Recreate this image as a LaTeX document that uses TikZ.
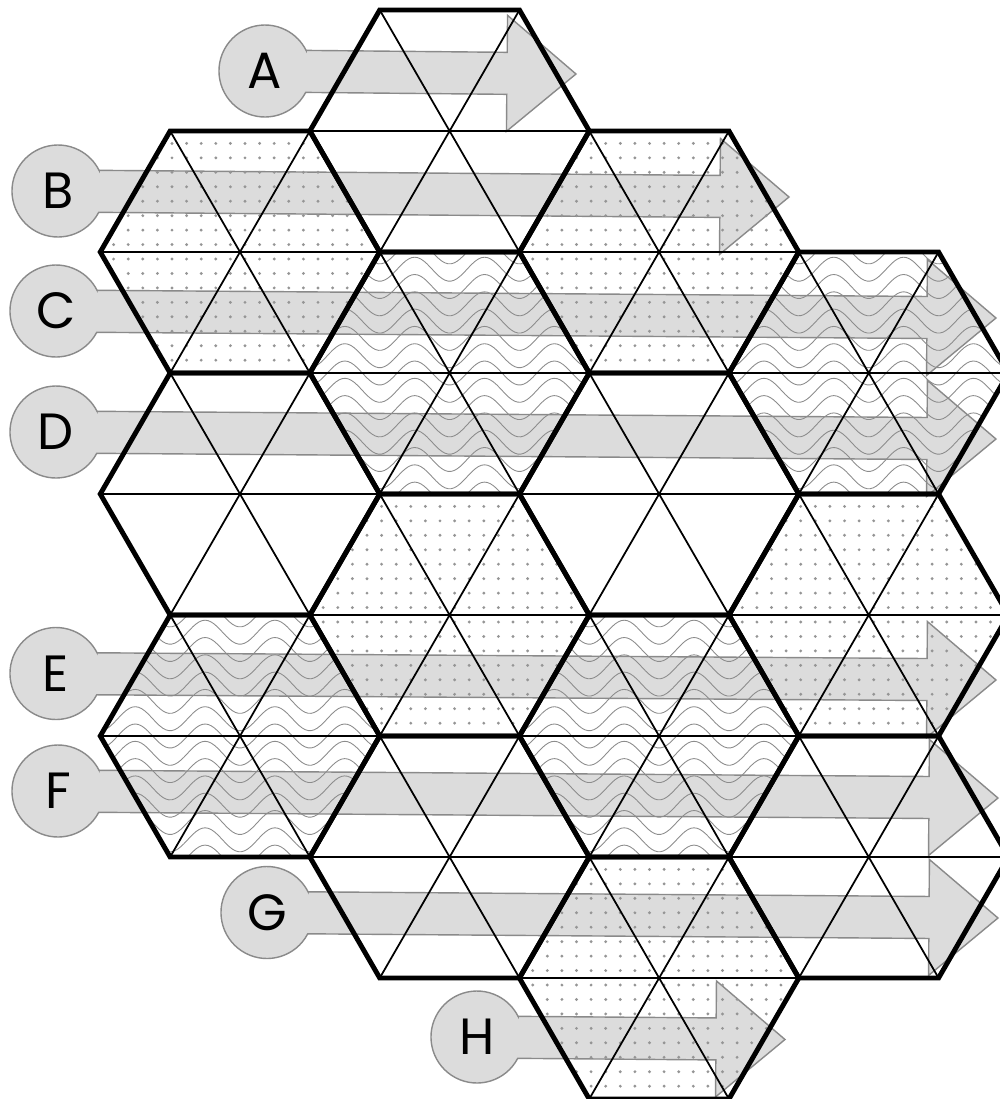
\documentclass[tikz,border=0pt]{standalone}
\usepackage{fontspec}
\setmainfont{Poppins}
\usepackage{tikz}
\definecolor{lanefill}{HTML}{DCDCDC}
\definecolor{lanerim}{HTML}{8A8A8A}
\definecolor{dotgray}{HTML}{959595}
\tikzset{
  celledge/.style={line width=2.8pt, draw=black, line join=miter},
  cellspoke/.style={line width=1pt, draw=black},
  celldot/.style={fill=dotgray},
  cellwave/.style={line width=0.5pt, draw=black!45},
  laneshape/.style={fill=lanefill, draw=lanerim, line width=0.8pt, line join=miter},
  lanelabel/.style={font=\fontsize{29}{32}\selectfont, text=black, inner sep=0pt},
}
\newcommand{\hexside}{139.72}
% #1 letter, (#2,#3) disc centre, (#4,#5) arrow tip
\newcommand{\lane}[5]{%
  \pgfmathsetmacro{\laneang}{atan2(#5-#3,#4-#2)}%
  \pgfmathsetmacro{\lanelen}{veclen(#4-#2,#5-#3)}%
  \begin{scope}[shift={(#2,#3)}, rotate=-\laneang]
    \draw[laneshape] (40.9,-21) -- (\lanelen-69,-21) -- (\lanelen-69,-58)
      -- (\lanelen,0) -- (\lanelen-69,58) -- (\lanelen-69,21) -- (40.9,21)
      arc[start angle=27.16, end angle=332.84, radius=46] -- cycle;
  \end{scope}
  \node[lanelabel] (lane#1) at (#2,#3) {#1};}

\begin{document}
\begin{tikzpicture}[x=0.02cm, y=-0.02cm]
\clip (0,0) rectangle (1000,1099);

% lanes A to H
\lane{A}{265}{71}{576}{74}
\lane{B}{58}{191}{789}{197}
\lane{C}{56}{311}{996}{318}
\lane{D}{56}{432}{996}{439}
\lane{E}{56}{673.5}{996}{680}
\lane{F}{58}{791}{998}{798}
\lane{G}{267}{912.5}{998}{918}
\lane{H}{477}{1037}{785}{1039.5}

% dotted cells
\foreach \cx/\cy in {240/252, 659.1/252, 449.6/615, 868.7/615, 659.1/978}{
  \begin{scope}
    \clip (\cx,\cy) +(0:\hexside) -- +(60:\hexside) -- +(120:\hexside)
      -- +(180:\hexside) -- +(240:\hexside) -- +(300:\hexside) -- cycle;
    \foreach \i in {-10,...,9}
      \foreach \j in {-9,...,8}
        \fill[celldot] ({\cx+5+\i*14.6},{\cy+7+\j*14.45}) circle (1.6);
  \end{scope}
}

% wavy cells
\foreach \cx/\cy in {449.6/373, 868.7/373, 240/736, 659.1/736}{
  \begin{scope}
    \clip (\cx,\cy) +(0:\hexside) -- +(60:\hexside) -- +(120:\hexside)
      -- +(180:\hexside) -- +(240:\hexside) -- +(300:\hexside) -- cycle;
    \foreach \k in {-8,...,8}
      \draw[cellwave] plot[domain=-150:150, samples=100]
        ({\cx+\x},{\cy+\k*17.3+12*cos(\x*5.1532)});
  \end{scope}
}

% triangles and cell borders
\foreach \cx/\cy in {240/252, 240/494, 240/736,
    449.6/131, 449.6/373, 449.6/615, 449.6/857,
    659.1/252, 659.1/494, 659.1/736, 659.1/978,
    868.7/373, 868.7/615, 868.7/857}{
  \draw[cellspoke] (\cx,\cy) +(0:\hexside) -- +(180:\hexside)
    +(60:\hexside) -- +(240:\hexside) +(120:\hexside) -- +(300:\hexside);
  \draw[celledge] (\cx,\cy) +(0:\hexside) -- +(60:\hexside) -- +(120:\hexside)
    -- +(180:\hexside) -- +(240:\hexside) -- +(300:\hexside) -- cycle;
}
\end{tikzpicture}
\end{document}
